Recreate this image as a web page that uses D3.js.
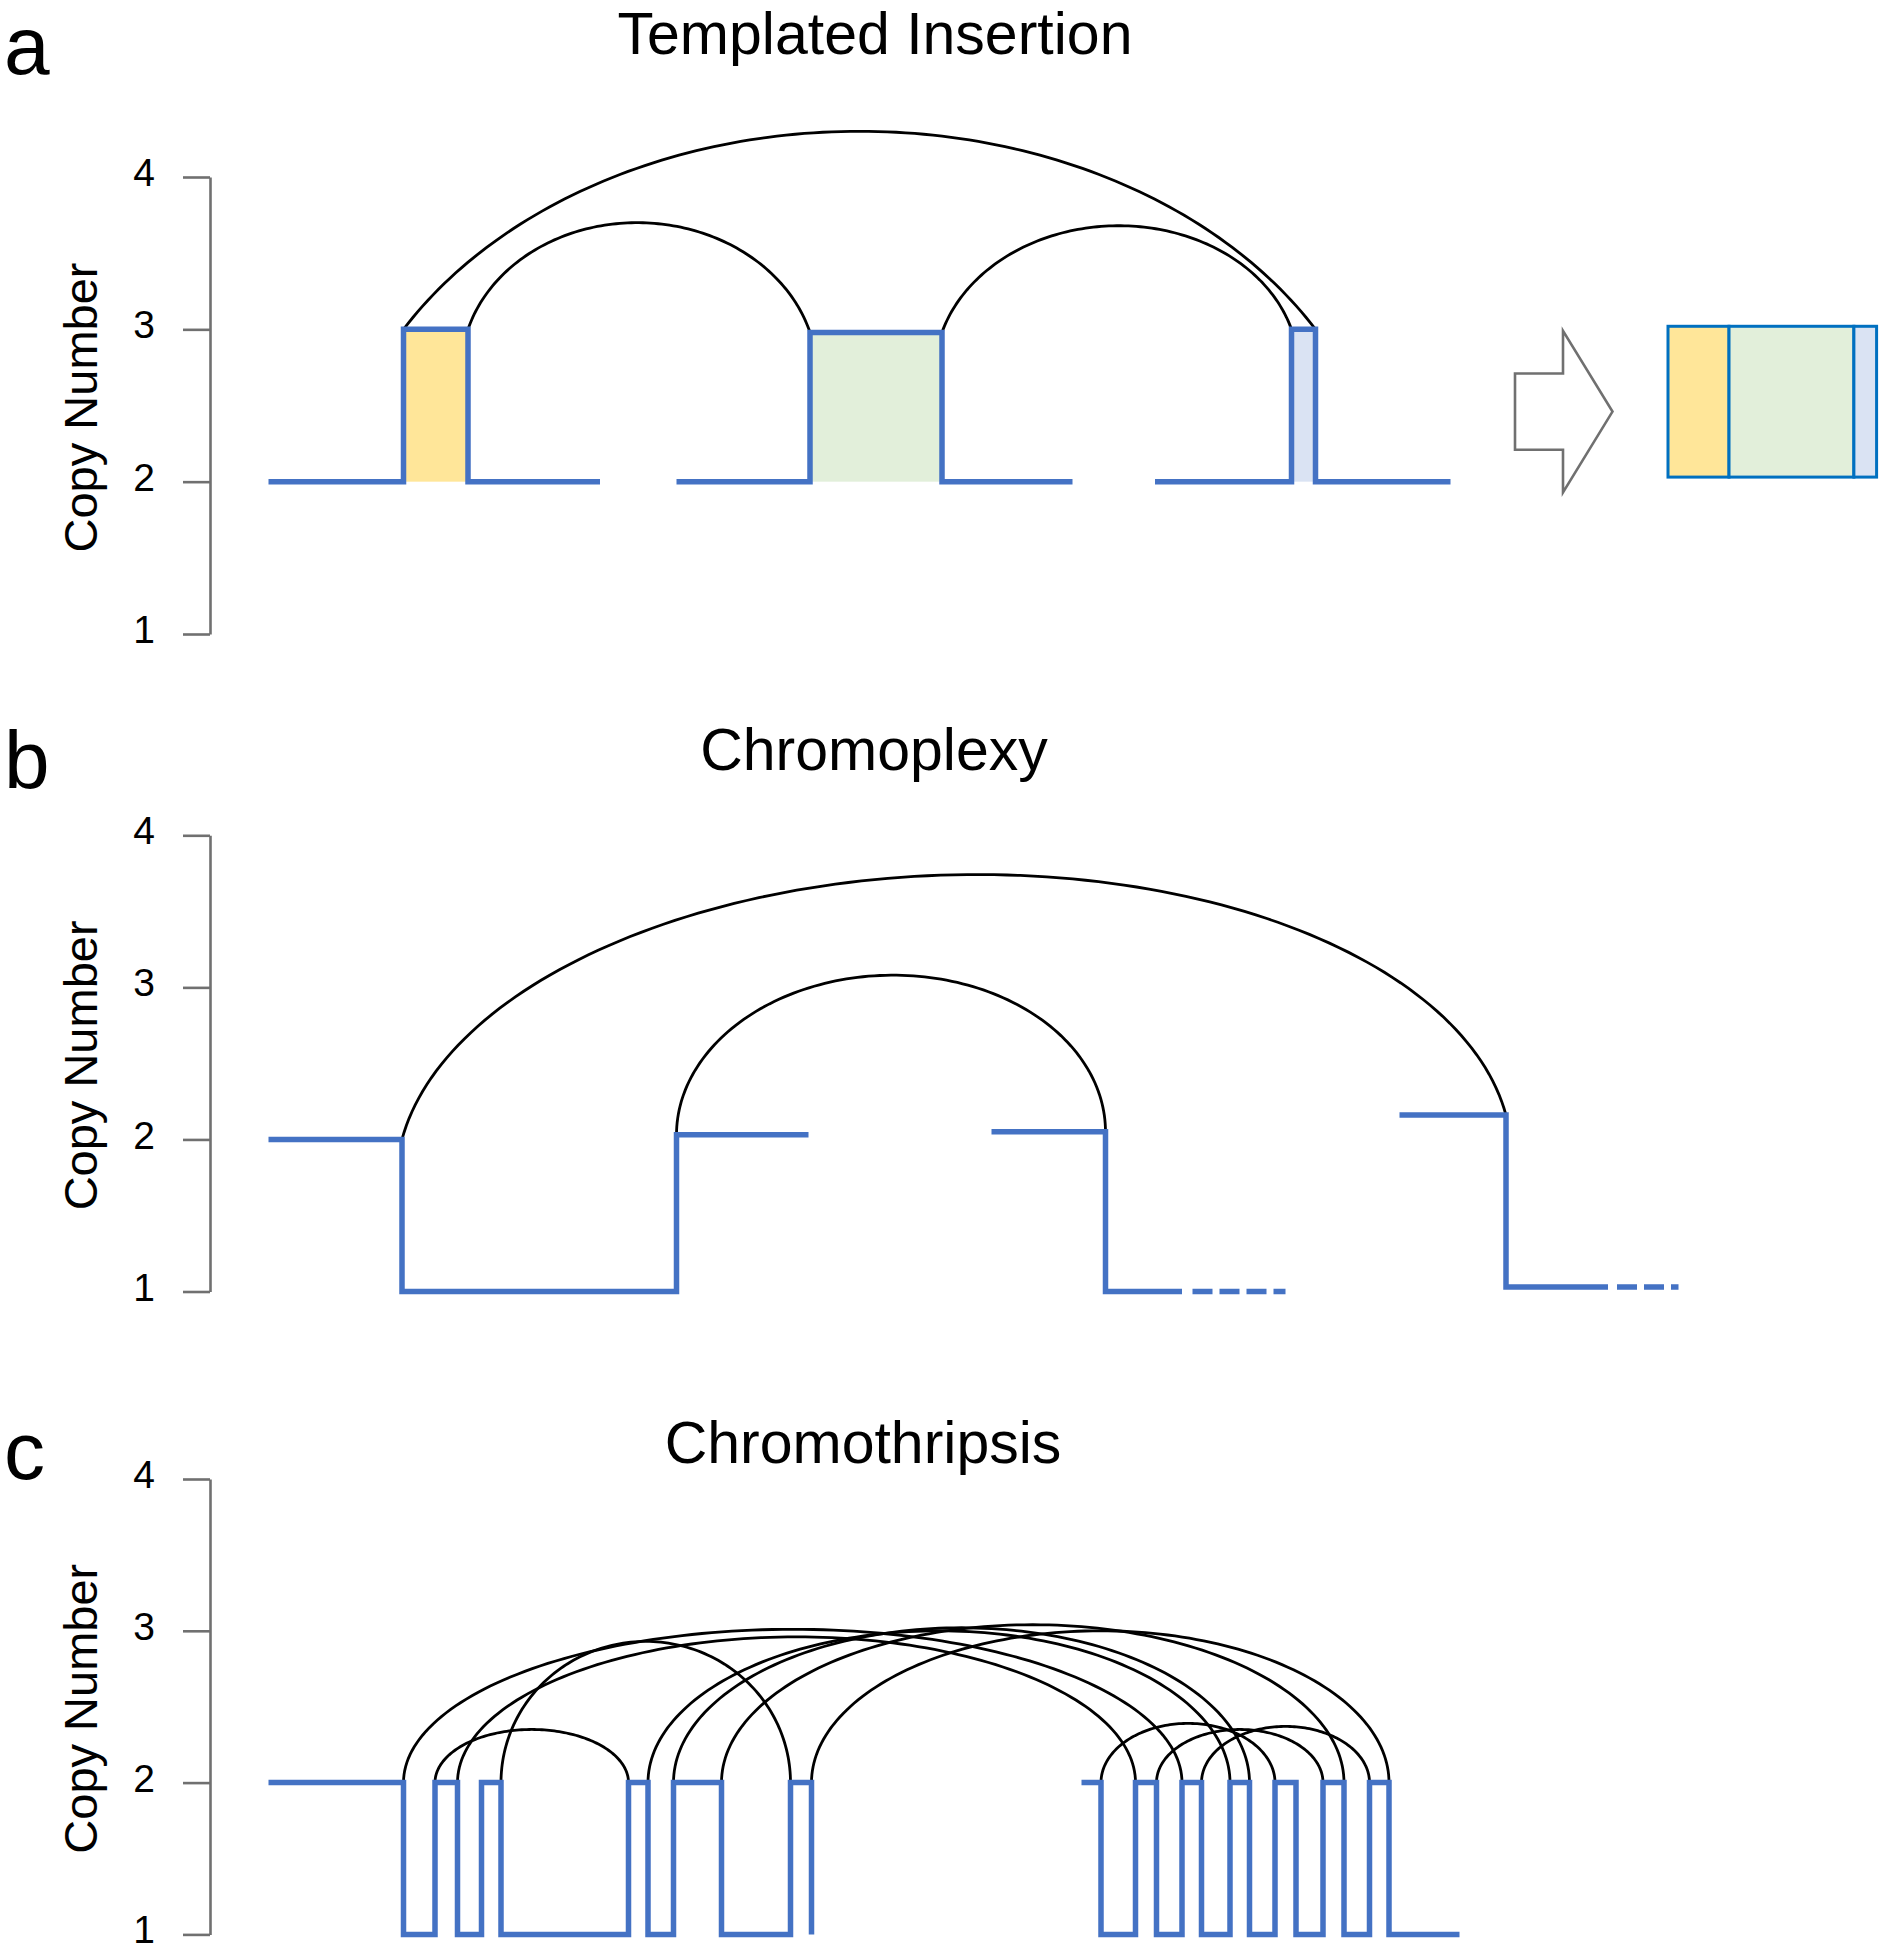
<!DOCTYPE html>
<html>
<head>
<meta charset="utf-8">
<script src="https://cdn.jsdelivr.net/npm/d3@7"></script>
<style>
  body { margin: 0; background: #fff; }
  svg { display: block; font-family: "Liberation Sans", Arial, Helvetica, sans-serif; }
</style>
</head>
<body>
<div id="container"></div>
<script>
// ---- data: x = position along the chromosome (arbitrary kb), y = copy number ----
const cnTicks = [1, 2, 3, 4];
const titles = ["Templated Insertion", "Chromoplexy", "Chromothripsis"];
const panelLetters = ["a", "b", "c"];

// a: templated insertion, three pieces each with a one-copy gain
const aBreaks = [[39, 129, 172, 260], [311, 400, 488, 575], [630, 721, 737, 827]];
const aLevels = [[2, 3, 2, 2], [2, 2.98, 2, 2], [2, 3, 2, 2]];
const aGains = [[129, 172], [400, 488], [721, 737]];
const aGainTop = [3, 2.98, 3];
// arcs: from, cn at from, to, cn at to, peak cn
const aArcs = [[129, 3, 737, 3, 4.3], [172, 3, 400, 2.98, 3.7], [488, 2.98, 721, 3, 3.68]];
const aArcShape = [1.15, 1.04, 1.04];

// b: chromoplexy
const bBreaks = [[39, 128, 311, 399], [521, 597, 648], [793, 864, 932]];
const bLevels = [[2, 1, 2.03, 2.03], [2.05, 1, 1], [2.16, 1.03, 1.03]];
const bTails = [[655, 717, 1], [938, 979, 1.03]];
const bArcs = [[128, 2, 864, 2.16, 3.74], [311, 2.03, 597, 2.05, 3.08]];
const bArcShape = [1.01, 1.0];

// c: chromothripsis
const cBreaks = [
  [39, 129, 150, 165, 181, 194, 279, 292, 309, 341, 387, 401],
  [581, 594, 617, 631, 648, 661, 680, 693, 710, 724, 742, 756, 773, 786, 833]
];
const cLevels = [
  [2, 1, 2, 1, 2, 1, 2, 1, 2, 1, 2, 1],
  [2, 1, 2, 1, 2, 1, 2, 1, 2, 1, 2, 1, 2, 1, 1]
];
const cArcs = [
  [129, 2, 648, 2, 3.01], [165, 2, 617, 2, 2.96], [150, 2, 279, 2, 2.35],
  [194, 2, 387, 2, 2.93], [292, 2, 680, 2, 3.0], [309, 2, 693, 2, 3.02],
  [341, 2, 756, 2, 3.04], [401, 2, 786, 2, 3.0], [594, 2, 710, 2, 2.39],
  [631, 2, 742, 2, 2.35], [661, 2, 773, 2, 2.37]
];

// ---- layout ----
const W = 1882, H = 1950;
const blue = "#4472c4", axisGrey = "#707070";
const gainFill = ["#ffe699", "#e2efda", "#dae3f3"];
const panels = [
  { yRange: [634, 177], titleX: 875, titleY: 54, letterY: 74 },
  { yRange: [1291.5, 835.3], titleX: 874, titleY: 770, letterY: 788 },
  { yRange: [1934.4, 1479], titleX: 863, titleY: 1463, letterY: 1479 }
];

const xs = d3.scaleLinear().domain([0, 1000]).range([210, 1710]);

const svg = d3.select("#container").append("svg")
  .attr("width", W).attr("height", H);

const stepLine = (ys) => d3.line()
  .x(d => xs(d[0])).y(d => ys(d[1]))
  .curve(d3.curveStepAfter);

// elliptical arc between two breakpoints; k = rx / half-width
function arcPath(a, k, ys) {
  const [x1, c1, x2, c2, peak] = a;
  const px1 = xs(x1), px2 = xs(x2), py1 = ys(c1), py2 = ys(c2);
  const w = (px2 - px1) / 2, cx = (px1 + px2) / 2;
  const rx = w * k, phi0 = Math.acos(1 / k), s0 = Math.sin(phi0);
  const ry = ((py1 + py2) / 2 - ys(peak)) / (1 - s0);
  const n = 120, pts = [];
  for (let i = 0; i <= n; i++) {
    const phi = Math.PI - phi0 - (Math.PI - 2 * phi0) * i / n;
    const x = cx + rx * Math.cos(phi);
    const t = (x - px1) / (px2 - px1);
    pts.push([x, py1 + (py2 - py1) * t - ry * (Math.sin(phi) - s0)]);
  }
  return d3.line()(pts);
}

function drawPanel(i, breaks, levels, arcs, shapes) {
  const p = panels[i];
  const ys = d3.scaleLinear().domain([1, 4]).range(p.yRange);
  const g = svg.append("g");

  // axis
  const axis = d3.axisLeft(ys).tickValues(cnTicks).tickFormat(d3.format("d"))
    .tickSize(27).tickSizeOuter(0).tickPadding(28);
  const ax = g.append("g").attr("transform", `translate(${xs(0)},0)`).call(axis);
  ax.select(".domain").attr("stroke", axisGrey).attr("stroke-width", 2.6);
  ax.selectAll(".tick line").attr("stroke", axisGrey).attr("stroke-width", 2.6);
  ax.selectAll(".tick text").attr("fill", "#000").attr("font-size", 39)
    .attr("dy", "0.22em")
    .attr("font-family", "'Liberation Sans', Arial, sans-serif");

  const midY = (p.yRange[0] + p.yRange[1]) / 2;
  g.append("text")
    .attr("transform", `translate(97,${midY + 2}) rotate(-90)`)
    .attr("text-anchor", "middle").attr("font-size", 47)
    .text("Copy Number");

  g.append("text").attr("x", p.titleX).attr("y", p.titleY)
    .attr("text-anchor", "middle").attr("font-size", 59)
    .text(titles[i]);

  g.append("text").attr("x", 4).attr("y", p.letterY)
    .attr("font-size", 82).text(panelLetters[i]);

  // arcs
  g.selectAll("path.arc").data(arcs).join("path")
    .attr("class", "arc")
    .attr("d", (d, j) => arcPath(d, shapes ? shapes[j] : 1, ys))
    .attr("fill", "none").attr("stroke", "#000").attr("stroke-width", 2.8);

  // copy-number segments
  const line = stepLine(ys);
  g.selectAll("path.cn").data(breaks.map((b, j) => b.map((x, k) => [x, levels[j][k]])))
    .join("path").attr("class", "cn")
    .attr("d", line)
    .attr("fill", "none").attr("stroke", blue).attr("stroke-width", 5.5)
    .attr("stroke-linejoin", "miter");

  return { g, ys };
}

// ---- panel a ----
{
  const ys = d3.scaleLinear().domain([1, 4]).range(panels[0].yRange);
  const g0 = svg.append("g");
  // gain fills, drawn under the line
  g0.selectAll("rect").data(aGains).join("rect")
    .attr("x", d => xs(d[0])).attr("width", d => xs(d[1]) - xs(d[0]))
    .attr("y", (d, j) => ys(aGainTop[j])).attr("height", (d, j) => ys(2) - ys(aGainTop[j]))
    .attr("fill", (d, j) => gainFill[j]);

  drawPanel(0, aBreaks, aLevels, aArcs, aArcShape);

  // arrow
  const arrowX = [870, 902, 935], arrowShaft = [2.21, 2.71], arrowHead = [1.93, 2.99];
  const arrowPts = [
    [arrowX[0], arrowShaft[1]], [arrowX[1], arrowShaft[1]], [arrowX[1], arrowHead[1]],
    [arrowX[2], (arrowHead[0] + arrowHead[1]) / 2], [arrowX[1], arrowHead[0]],
    [arrowX[1], arrowShaft[0]], [arrowX[0], arrowShaft[0]]
  ];
  svg.append("path")
    .attr("d", d3.line().x(d => xs(d[0])).y(d => ys(d[1]))(arrowPts) + "Z")
    .attr("fill", "#fff").attr("stroke", axisGrey).attr("stroke-width", 2.6);

  // joined product: the inserted pieces laid end to end
  const boxStart = 972, boxScale = 0.946;
  let acc = boxStart;
  const boxParts = aGains.map((d, j) => {
    const len = (d[1] - d[0]) * boxScale;
    const part = { x0: acc, x1: acc + len, fill: gainFill[j] };
    acc += len;
    return part;
  });
  svg.append("g").selectAll("rect").data(boxParts).join("rect")
    .attr("x", d => xs(d.x0)).attr("width", d => xs(d.x1) - xs(d.x0))
    .attr("y", ys(3.02)).attr("height", ys(2.03) - ys(3.02))
    .attr("fill", d => d.fill).attr("stroke", "#0070c0").attr("stroke-width", 3);
}

// ---- panel b ----
{
  const { g, ys } = drawPanel(1, bBreaks, bLevels, bArcs, bArcShape);
  g.selectAll("line.tail").data(bTails).join("line").attr("class", "tail")
    .attr("x1", d => xs(d[0])).attr("x2", d => xs(d[1]))
    .attr("y1", d => ys(d[2])).attr("y2", d => ys(d[2]))
    .attr("stroke", blue).attr("stroke-width", 5.5).attr("stroke-dasharray", "20 7");
}

// ---- panel c ----
drawPanel(2, cBreaks, cLevels, cArcs, null);
</script>
</body>
</html>
